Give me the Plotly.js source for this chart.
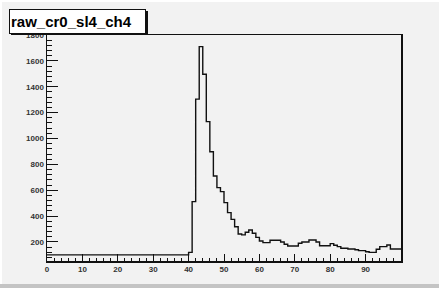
<!DOCTYPE html>
<html>
<head>
<meta charset="utf-8">
<script src="https://cdn.plot.ly/plotly-3.0.1.min.js"></script>
<style>
html,body{margin:0;padding:0;background:#f2f2f2;}
#chart{width:439px;height:288px;}
</style>
</head>
<body>
<div id="chart"></div>
<script>
// Histogram definition
const histTitle = "raw_cr0_sl4_ch4";
const xMin = 0;
const binWidth = 1;
const counts = [
  100,100,100,100,100,100,100,100,100,100,
  100,100,100,100,100,100,100,100,100,100,
  100,100,100,100,100,100,100,100,100,100,
  100,100,100,100,100,100,100,100,100,100,
  120,512,1304,1710,1497,1130,898,710,620,589,
  504,427,375,318,262,255,275,293,268,236,
  208,195,195,213,213,213,200,182,169,169,
  169,190,200,200,215,215,200,171,171,171,
  187,175,164,151,151,146,146,140,133,133,
  125,120,120,144,164,164,177,146,146,146
];
const xTickVals = [0,10,20,30,40,50,60,70,80,90,100];
const xTickText = ["0","10","20","30","40","50","60","70","80","90",""];

// step outline built from bin edges
const edges = counts.map((_, i) => xMin + i * binWidth);
edges.push(xMin + counts.length * binWidth);
const stepY = counts.slice();
stepY.push(counts[counts.length - 1]);

const W = 439, H = 288;
const m = {l: 47, r: 38, t: 35, b: 27};
const pw = W - m.l - m.r, ph = H - m.t - m.b;
const px = v => (v - m.l) / pw;
const py = v => (H - m.b - v) / ph;

const tickFont = {family: "Liberation Sans, Arial, sans-serif", size: 8, color: "#333", weight: "bold"};

const trace = {
  type: "scatter", mode: "lines",
  x: edges, y: stepY,
  line: {shape: "hv", color: "#111", width: 1.4},
  hoverinfo: "skip"
};

const layout = {
  width: W, height: H,
  margin: m,
  paper_bgcolor: "#f2f2f2",
  plot_bgcolor: "#f2f2f2",
  showlegend: false,
  xaxis: {
    range: [0, 100], tickmode: "array", tickvals: xTickVals, ticktext: xTickText,
    ticks: "inside", ticklen: 7, tickwidth: 1, tickcolor: "#111",
    minor: {tickmode: "linear", tick0: 0, dtick: 2, ticks: "inside", ticklen: 3.5, tickcolor: "#111", tickwidth: 1},
    showline: true, linecolor: "#111", linewidth: 1.5, mirror: true,
    showgrid: false, zeroline: false, tickfont: tickFont, fixedrange: true
  },
  yaxis: {
    range: [53, 1800], tickmode: "linear", tick0: 0, dtick: 200,
    ticks: "inside", ticklen: 10.5, tickwidth: 1, tickcolor: "#111",
    minor: {tickmode: "linear", tick0: 0, dtick: 40, ticks: "inside", ticklen: 5, tickcolor: "#111", tickwidth: 1},
    showline: true, linecolor: "#111", linewidth: 1.5, mirror: true,
    showgrid: false, zeroline: false, tickfont: tickFont, fixedrange: true
  },
  shapes: [
    {type: "rect", xref: "paper", yref: "paper", x0: px(0), x1: px(W), y0: py(0), y1: py(2), fillcolor: "#ffffff", line: {width: 0}, layer: "below"},
    {type: "rect", xref: "paper", yref: "paper", x0: px(0), x1: px(2), y0: py(0), y1: py(H), fillcolor: "#ffffff", line: {width: 0}, layer: "below"},
    {type: "rect", xref: "paper", yref: "paper", x0: px(0), x1: px(W), y0: py(H - 4), y1: py(H), fillcolor: "#c4c4c4", line: {width: 0}, layer: "below"},
    {type: "rect", xref: "paper", yref: "paper", x0: px(11), x1: px(148), y0: py(11), y1: py(35), fillcolor: "#111", line: {width: 0}, layer: "above"}
  ],
  annotations: [
    {
      xref: "paper", yref: "paper", x: px(9), y: py(9), xanchor: "left", yanchor: "top",
      text: "<b>" + histTitle + "</b>", showarrow: false, align: "left",
      width: 133, height: 21, borderpad: 1,
      bgcolor: "#ffffff", bordercolor: "#111", borderwidth: 1,
      font: {family: "Liberation Sans, Arial, sans-serif", size: 15, color: "#000"}
    }
  ]
};

Plotly.newPlot("chart", [trace], layout, {displayModeBar: false, staticPlot: true});
</script>
</body>
</html>
